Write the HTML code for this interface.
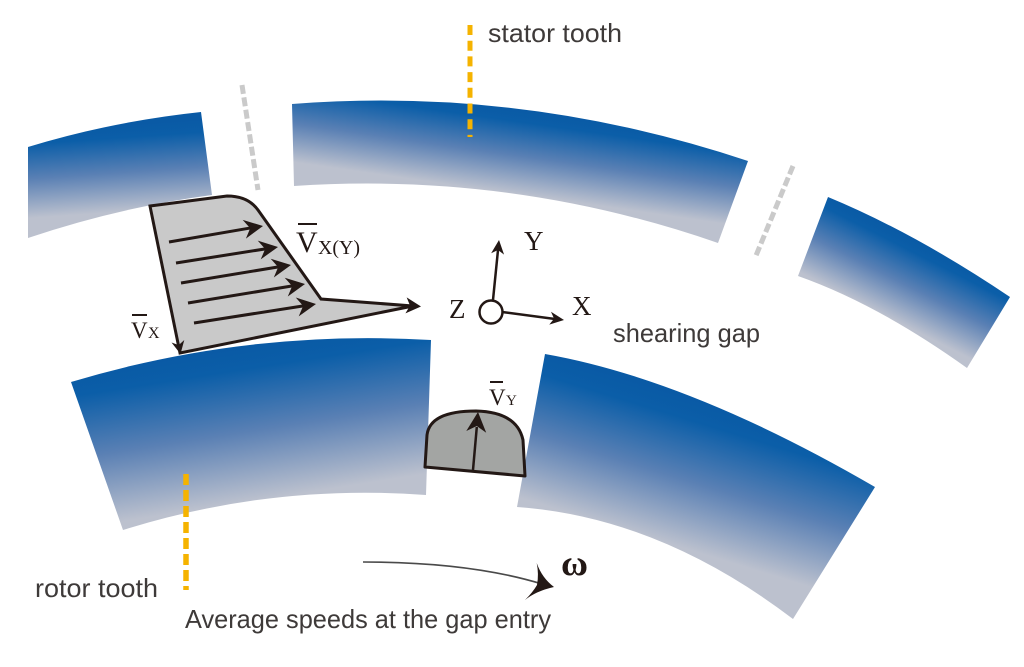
<!DOCTYPE html>
<html>
<head>
<meta charset="utf-8">
<style>
  html,body{margin:0;padding:0;background:#ffffff;}
  svg{display:block;}
  .lbl{font-family:"Liberation Sans",Arial,sans-serif;fill:#3e3a39;font-size:26px;}
  .ser{font-family:"Liberation Serif","Times New Roman",serif;fill:#231815;}
</style>
</head>
<body>
<svg width="1024" height="667" viewBox="0 0 1024 667" xmlns="http://www.w3.org/2000/svg">
  <defs>
    <linearGradient id="gS1" gradientUnits="userSpaceOnUse" x1="113" y1="125" x2="119" y2="212">
      <stop offset="0" stop-color="#0a5aa5"/><stop offset="0.15" stop-color="#0b5ea8"/>
      <stop offset="0.55" stop-color="#5a80b4"/><stop offset="1" stop-color="#bcc1ce"/>
    </linearGradient>
    <linearGradient id="gS2" gradientUnits="userSpaceOnUse" x1="521" y1="109" x2="509" y2="193">
      <stop offset="0" stop-color="#0a5aa5"/><stop offset="0.15" stop-color="#0b5ea8"/>
      <stop offset="0.55" stop-color="#5a80b4"/><stop offset="1" stop-color="#bcc1ce"/>
    </linearGradient>
    <linearGradient id="gS3" gradientUnits="userSpaceOnUse" x1="917" y1="240" x2="880" y2="313">
      <stop offset="0" stop-color="#0a5aa5"/><stop offset="0.15" stop-color="#0b5ea8"/>
      <stop offset="0.55" stop-color="#5a80b4"/><stop offset="1" stop-color="#bcc1ce"/>
    </linearGradient>
    <linearGradient id="gR1" gradientUnits="userSpaceOnUse" x1="249" y1="345" x2="273" y2="498">
      <stop offset="0" stop-color="#0a5aa5"/><stop offset="0.15" stop-color="#0b5ea8"/>
      <stop offset="0.55" stop-color="#5a80b4"/><stop offset="1" stop-color="#bcc1ce"/>
    </linearGradient>
    <linearGradient id="gR2" gradientUnits="userSpaceOnUse" x1="700" y1="400" x2="657" y2="540">
      <stop offset="0" stop-color="#0a5aa5"/><stop offset="0.15" stop-color="#0b5ea8"/>
      <stop offset="0.55" stop-color="#5a80b4"/><stop offset="1" stop-color="#bcc1ce"/>
    </linearGradient>
  </defs>

  <!-- stator teeth -->
  <path d="M28,147 Q111.5,121.5 201,112 L212,195 Q118,207.5 28,238 Z" fill="url(#gS1)"/>
  <path d="M292,104 Q523.5,86 748,161 L718,243 Q512,171.5 294,186 Z" fill="url(#gS2)"/>
  <path d="M828,197 Q915,233 1010,297 L967,368 Q877.5,304 798,276 Z" fill="url(#gS3)"/>

  <!-- rotor teeth -->
  <path d="M71,382 Q247,329 431,340 L426,495 Q271.5,483.5 123,530 Z" fill="url(#gR1)"/>
  <path d="M545,354 Q690,379.5 875,487 L793,619 Q659,517 517,507 Z" fill="url(#gR2)"/>

  <!-- gray dashed lines -->
  <line x1="242" y1="85" x2="258" y2="190" stroke="#cacaca" stroke-width="5" stroke-dasharray="9 3.5"/>
  <line x1="793" y1="166" x2="755" y2="258" stroke="#cacaca" stroke-width="5" stroke-dasharray="9 3.5"/>

  <!-- orange dashed lines -->
  <line x1="470" y1="25" x2="470" y2="137" stroke="#f5b300" stroke-width="5" stroke-dasharray="10 5.7"/>
  <line x1="186" y1="474" x2="186" y2="590" stroke="#f5b300" stroke-width="5.5" stroke-dasharray="11 5"/>

  <!-- velocity profile -->
  <path d="M150,206 L227,196 Q248,196 258,210 L321,299 L413,306 L180,353 Z" fill="#c9c9c9" stroke="#231815" stroke-width="3" stroke-linejoin="miter"/>
  <!-- tip arrowhead right -->
  <path d="M0,0 L-15,-8 L-11,0 L-15,8 Z" fill="#231815" transform="translate(421,306.5) rotate(4.4)"/>
  <!-- down arrowhead at left edge -->
  <path d="M0,0 L-13,-6.5 L-9,0 L-13,6.5 Z" fill="#231815" transform="translate(180.5,354) rotate(78.5)"/>

  <!-- inner arrows -->
  <g stroke="#231815" stroke-width="3" fill="none">
    <line x1="169" y1="242" x2="252.1" y2="227.7"/>
    <line x1="176" y1="263" x2="267.1" y2="248.6"/>
    <line x1="181" y1="283" x2="280.1" y2="266.6"/>
    <line x1="188" y1="303" x2="294.1" y2="285.6"/>
    <line x1="194" y1="323" x2="305.1" y2="305.6"/>
  </g>
  <g fill="#231815">
    <path d="M0,0 L-19,-9.5 L-13,0 L-19,9.5 Z" transform="translate(263,226) rotate(-9.8)"/>
    <path d="M0,0 L-19,-9.5 L-13,0 L-19,9.5 Z" transform="translate(278,247) rotate(-9.0)"/>
    <path d="M0,0 L-19,-9.5 L-13,0 L-19,9.5 Z" transform="translate(291,265) rotate(-9.4)"/>
    <path d="M0,0 L-19,-9.5 L-13,0 L-19,9.5 Z" transform="translate(305,284) rotate(-9.3)"/>
    <path d="M0,0 L-19,-9.5 L-13,0 L-19,9.5 Z" transform="translate(316,304) rotate(-8.9)"/>
  </g>

  <!-- Vx(Y) label -->
  <line x1="298" y1="224" x2="317" y2="224" stroke="#231815" stroke-width="2"/>
  <text class="ser" x="296" y="252" font-size="30">V</text>
  <text class="ser" x="318" y="254" font-size="20" textLength="42" lengthAdjust="spacingAndGlyphs">X(Y)</text>

  <!-- Vx label -->
  <line x1="132" y1="315" x2="147" y2="315" stroke="#231815" stroke-width="2"/>
  <text class="ser" x="131" y="338" font-size="23">V</text>
  <text class="ser" x="148" y="338" font-size="16">X</text>

  <!-- coordinate system -->
  <g stroke="#231815" stroke-width="2.5" fill="none">
    <line x1="493" y1="300" x2="498.2" y2="248"/>
    <line x1="502" y1="312" x2="555" y2="319"/>
  </g>
  <path d="M0,0 L-14,-6.5 L-10,0 L-14,6.5 Z" fill="#231815" transform="translate(499,240) rotate(-84.3)"/>
  <path d="M0,0 L-14,-6.5 L-10,0 L-14,6.5 Z" fill="#231815" transform="translate(564,320) rotate(7.6)"/>
  <circle cx="491" cy="312" r="11.5" fill="#ffffff" stroke="#231815" stroke-width="2.5"/>
  <text class="ser" x="524" y="250" font-size="27">Y</text>
  <text class="ser" x="572" y="315" font-size="27">X</text>
  <text class="ser" x="449" y="318" font-size="27">Z</text>

  <!-- Vy dome -->
  <path d="M425,467 L427,435 Q430,411 476,411 Q517,412 523,440 L525,476 Z" fill="#a3a5a3" stroke="#231815" stroke-width="3" stroke-linejoin="round"/>
  <line x1="473" y1="470" x2="476.8" y2="427" stroke="#231815" stroke-width="2.5"/>
  <path d="M0,0 L-20,-10 L-14,0 L-20,10 Z" fill="#231815" transform="translate(478,412) rotate(-85)"/>
  <line x1="490" y1="382" x2="503" y2="382" stroke="#231815" stroke-width="2"/>
  <text class="ser" x="489" y="405" font-size="23">V</text>
  <text class="ser" x="506" y="405" font-size="15">Y</text>

  <!-- omega arrow -->
  <path d="M363,562 Q470,562 542,584" fill="none" stroke="#4a4a4a" stroke-width="1.6"/>
  <path d="M536.7,563 Q542,578 554,587 Q536,591 525,600 Q533,592 537,585 Q539,574 536.7,563 Z" fill="#231815"/>
  <text class="ser" x="561" y="575" font-size="36" font-weight="bold" textLength="27" lengthAdjust="spacingAndGlyphs">ω</text>

  <!-- labels -->
  <text class="lbl" x="488" y="42" textLength="134" lengthAdjust="spacingAndGlyphs">stator tooth</text>
  <text class="lbl" x="613" y="342" textLength="147" lengthAdjust="spacingAndGlyphs">shearing gap</text>
  <text class="lbl" x="35" y="597" textLength="123" lengthAdjust="spacingAndGlyphs">rotor tooth</text>
  <text class="lbl" x="185" y="628" textLength="366" lengthAdjust="spacingAndGlyphs">Average speeds at the gap entry</text>
</svg>
</body>
</html>
